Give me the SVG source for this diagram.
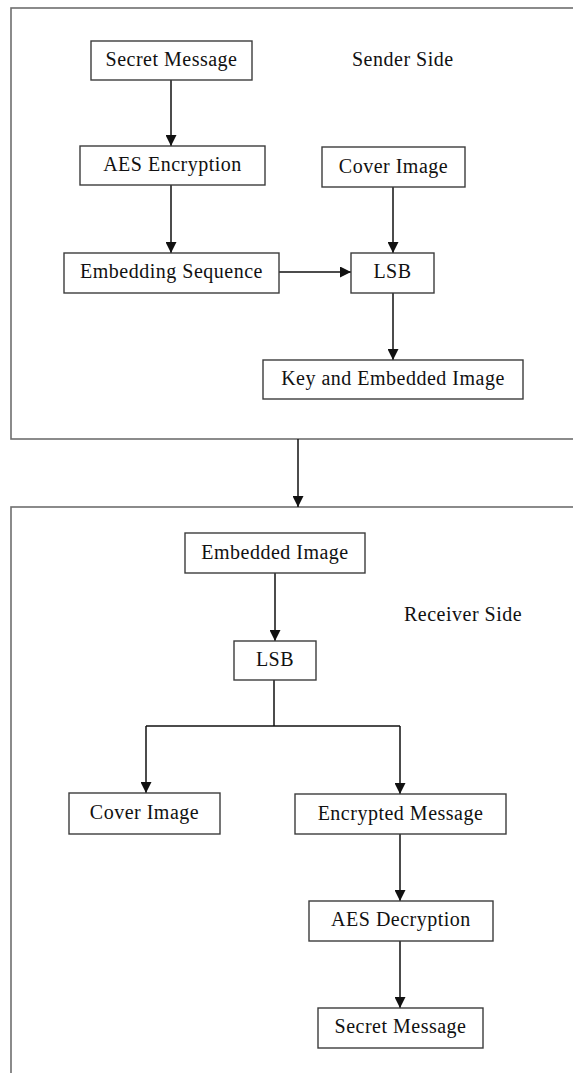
<svg xmlns="http://www.w3.org/2000/svg" width="573" height="1073" viewBox="0 0 573 1073">
<style>
.frame{fill:none;stroke:#6e6e6e;stroke-width:1.6}
.box{fill:#fff;stroke:#3c3c3c;stroke-width:1.4}
.t{font-family:"Liberation Serif","Times New Roman",serif;font-size:20px;letter-spacing:0.5px;fill:#111;text-anchor:middle}
.lbl{font-family:"Liberation Serif","Times New Roman",serif;font-size:20px;letter-spacing:0.5px;fill:#111}
.c{fill:none;stroke:#111;stroke-width:1.5}
</style>
<defs>
<marker id="ah" markerUnits="userSpaceOnUse" markerWidth="11" markerHeight="11" viewBox="0 0 10 10" refX="10" refY="5" orient="auto">
<path d="M0,0 L10,5 L0,10 Z" fill="#111"/>
</marker>
</defs>
<rect width="573" height="1073" fill="#fff"/>
<g id="frames">
<rect class="frame" x="11" y="8" width="575" height="431"/>
<rect class="frame" x="11" y="507" width="575" height="600"/>
<text class="lbl" x="352" y="66">Sender Side</text>
<text class="lbl" x="404" y="621">Receiver Side</text>
</g>
<g id="connectors">
<line class="c" x1="171" y1="80" x2="171" y2="146" marker-end="url(#ah)"/>
<line class="c" x1="171" y1="185" x2="171" y2="253" marker-end="url(#ah)"/>
<line class="c" x1="279" y1="272" x2="351" y2="272" marker-end="url(#ah)"/>
<line class="c" x1="393" y1="187" x2="393" y2="253" marker-end="url(#ah)"/>
<line class="c" x1="393" y1="293" x2="393" y2="360" marker-end="url(#ah)"/>
<line class="c" x1="298" y1="439" x2="298" y2="507" marker-end="url(#ah)"/>
<line class="c" x1="275" y1="573" x2="275" y2="641" marker-end="url(#ah)"/>
<path class="c" d="M274,680 V726" stroke="#555"/>
<path class="c" d="M146,726 H400" stroke="#555"/>
<line class="c" x1="146" y1="726" x2="146" y2="793" marker-end="url(#ah)"/>
<line class="c" x1="400" y1="726" x2="400" y2="794" marker-end="url(#ah)"/>
<line class="c" x1="400" y1="834" x2="400" y2="901" marker-end="url(#ah)"/>
<line class="c" x1="400" y1="941" x2="400" y2="1008" marker-end="url(#ah)"/>
</g>
<g id="s_secret"><rect class="box" x="91" y="41" width="161" height="39"/><text class="t" x="171.5" y="66">Secret Message</text></g>
<g id="s_aes"><rect class="box" x="80" y="146" width="185" height="39"/><text class="t" x="172.5" y="171">AES Encryption</text></g>
<g id="s_embseq"><rect class="box" x="64" y="253" width="215" height="40"/><text class="t" x="171.5" y="278">Embedding Sequence</text></g>
<g id="s_cover"><rect class="box" x="322" y="147" width="143" height="40"/><text class="t" x="393.5" y="173">Cover Image</text></g>
<g id="s_lsb"><rect class="box" x="351" y="253" width="83" height="40"/><text class="t" x="392.5" y="278">LSB</text></g>
<g id="s_key"><rect class="box" x="263" y="360" width="260" height="39"/><text class="t" x="393" y="385">Key and Embedded Image</text></g>
<g id="r_embimg"><rect class="box" x="185" y="533" width="180" height="40"/><text class="t" x="275" y="559">Embedded Image</text></g>
<g id="r_lsb"><rect class="box" x="234" y="641" width="82" height="39"/><text class="t" x="275" y="666">LSB</text></g>
<g id="r_cover"><rect class="box" x="69" y="793" width="151" height="41"/><text class="t" x="144.5" y="819">Cover Image</text></g>
<g id="r_enc"><rect class="box" x="295" y="794" width="211" height="40"/><text class="t" x="400.5" y="820">Encrypted Message</text></g>
<g id="r_aesdec"><rect class="box" x="309" y="901" width="184" height="40"/><text class="t" x="401" y="926">AES Decryption</text></g>
<g id="r_secret"><rect class="box" x="318" y="1008" width="165" height="40"/><text class="t" x="400.5" y="1033">Secret Message</text></g>
</svg>
